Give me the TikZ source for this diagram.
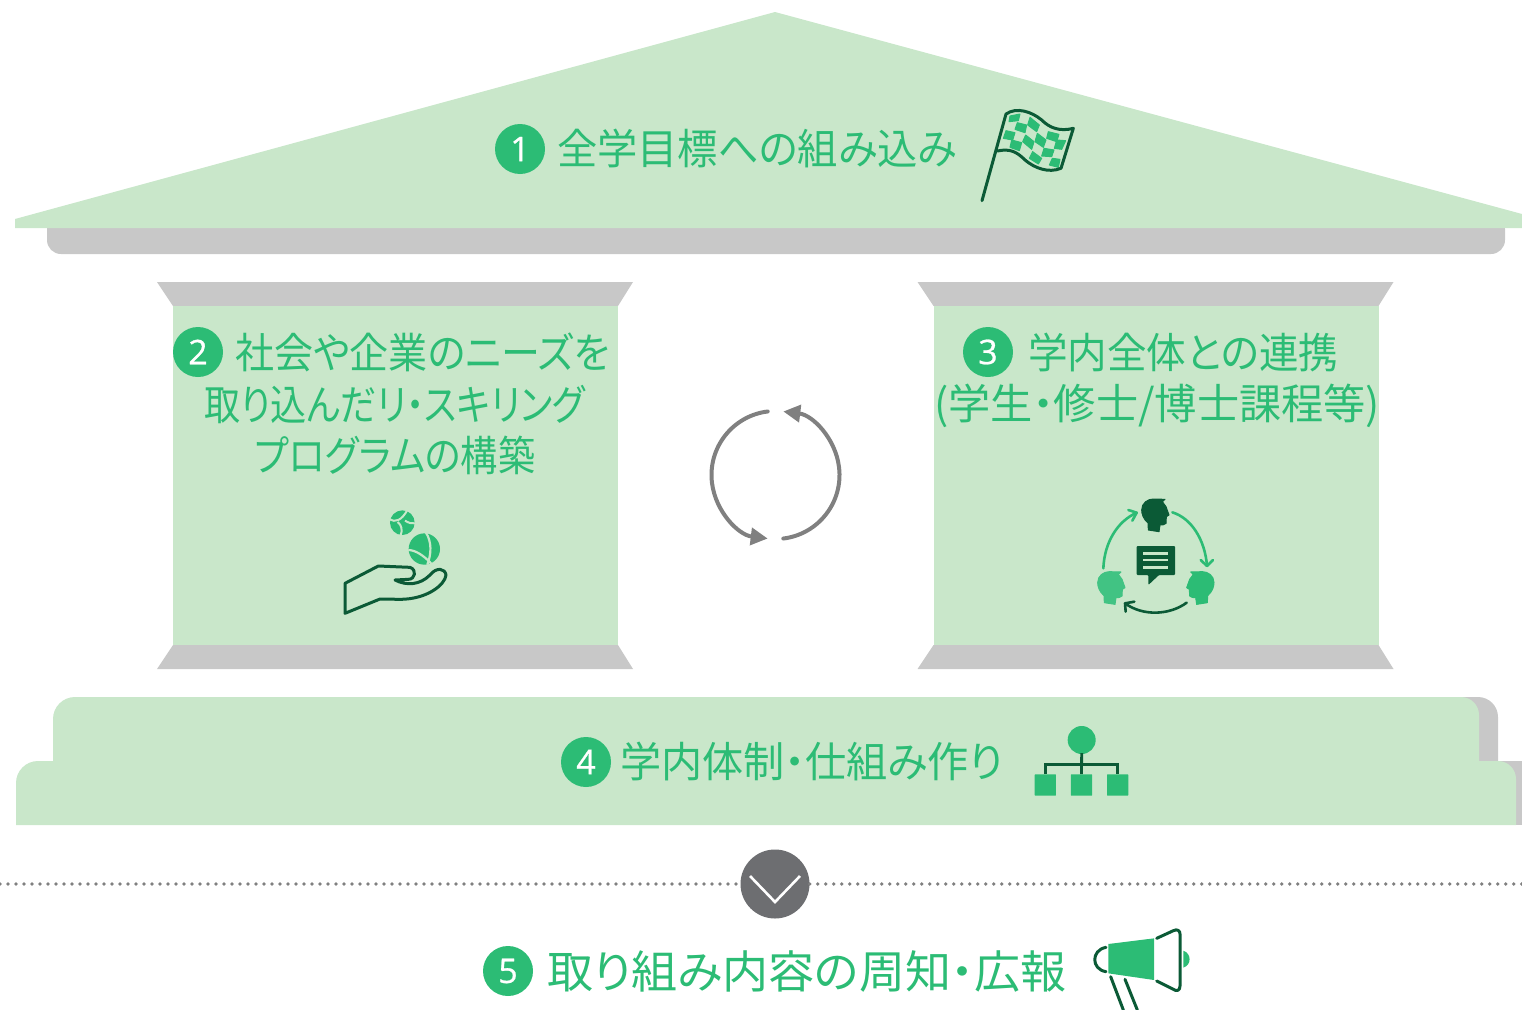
\documentclass[tikz,border=0pt]{standalone}
\usepackage{fontspec}
\usetikzlibrary{arrows.meta}
\newfontfamily\jp[RawFeature=+palt]{Noto Sans CJK JP}
\newfontfamily\numf[FakeBold=0.7]{Open Sans}
\newsavebox\fitbox
\newcommand\fitw[2]{\sbox\fitbox{#2}\resizebox{#1pt}{\ht\fitbox}{\usebox\fitbox}}
\definecolor{tgreen}{HTML}{2CBC75}
\definecolor{lgreen}{HTML}{C9E7CA}
\definecolor{dgreen}{HTML}{0B5A36}
\definecolor{bargray}{HTML}{C8C8C8}
\definecolor{cyc}{HTML}{808080}
\definecolor{disc}{HTML}{6D6E71}
\tikzset{
 jt/.style={font=\jp\fontsize{42}{42}\selectfont,text=tgreen,inner sep=0pt,anchor=west},
 badge/.style={circle,fill=tgreen,minimum size=50pt,inner sep=0pt,text=white,font=\numf\fontsize{34}{34}\selectfont},
 zoomed/.style={xscale=1/3,yscale=1/3},
 outl/.style={draw=dgreen,line width=3pt,line cap=round,line join=round},
 cycarrow/.style={draw=cyc,line width=4pt,line cap=round},
}
\newcommand\headpath{(20,93) -- (19,72) .. controls (5,60) and (0,45) .. (0,33) .. controls (0,12) and (18,0) .. (35,0) -- (70,1) -- (62,8) -- (73,23) -- (82,48) -- (74,53) -- (73,73) .. controls (70,78) and (60,78) .. (55,78) -- (52,98) -- cycle}
\begin{document}
\begin{tikzpicture}[x=1pt,y=-1pt]
\useasboundingbox (0,0) rectangle (1522,1009);
\clip (0,0) rectangle (1522,1009);
% roof
\fill[bargray,rounded corners=14pt] (47,215) -- (47,254) -- (1505,254) -- (1505,215) -- cycle;
\fill[lgreen] (15,228) -- (15,219) -- (775,12) -- (1522,214) -- (1522,228) -- cycle;
% pillars
\foreach \d in {0,760.5}{
 \fill[bargray] (157+\d,282) -- (633+\d,282) -- (618+\d,306) -- (173+\d,306) -- cycle;
 \fill[lgreen] (173+\d,306) rectangle (618+\d,645);
 \fill[bargray] (173+\d,645) -- (618+\d,645) -- (633+\d,669) -- (157+\d,669) -- cycle;
}
% base
\fill[bargray] (1440,697) -- (1478,697) arc[start angle=-90,end angle=0,radius=20] -- (1498,770) -- (1440,770) -- cycle;
\fill[bargray] (1500,761) rectangle (1522,825);
\fill[lgreen] (53,770) -- (53,719) arc[start angle=180,end angle=270,radius=22] -- (1461,697) arc[start angle=-90,end angle=0,radius=18] -- (1479,770) -- cycle;
\fill[lgreen] (16,825) -- (16,783) arc[start angle=180,end angle=270,radius=22] -- (1498,761) arc[start angle=-90,end angle=0,radius=18] -- (1516,825) -- cycle;
% cycle arrows
\draw[cycarrow,-{Triangle[length=17pt,width=17pt]}] ([shift={(775.5,475)}]-97:64) arc[start angle=-97,end angle=-263,radius=64];
\draw[cycarrow,-{Triangle[length=17pt,width=17pt]}] ([shift={(775.5,475)}]83:64) arc[start angle=83,end angle=-83,radius=64];
% separator
\node[circle,fill=disc,minimum size=69pt,inner sep=0pt] (dn) at (775,884) {};
\coordinate (sl) at (0,884);
\coordinate (sr) at (1522,884);
\draw[cyc,line width=3.8pt,line cap=round,dash pattern=on 0pt off 8pt] (sl) -- (dn.west);
\draw[cyc,line width=3.8pt,line cap=round,dash pattern=on 0pt off 8pt] (dn.east) -- (sr);
\coordinate (c1) at (750,876); \coordinate (c2) at (775,902); \coordinate (c3) at (800,876);
\draw[white,line width=2.6pt] (c1) -- (c2) -- (c3);
% texts
\node[badge] (b1) at (520,149) {1};
\node[jt] (t1) at (557,148) {\fitw{400}{全学目標への組み込み}};
\node[badge] (b2) at (198,352) {2};
\node[jt] (t2a) at (235,352) {\fitw{375}{社会や企業のニーズを}};
\node[jt] (t2b) at (204,404) {\fitw{381}{取り込んだリ・スキリング}};
\node[jt] (t2c) at (255,455) {\fitw{280}{プログラムの構築}};
\node[badge] (b3) at (988,352) {3};
\node[jt] (t3a) at (1028,352) {\fitw{310}{学内全体との連携}};
\node[jt] (t3b) at (934,406) {\fitw{446}{(学生・修士/博士課程等)}};
\node[badge] (b4) at (586,762) {4};
\node[jt] (t4) at (620,761) {\fitw{383}{学内体制・仕組み作り}};
\node[badge] (b5) at (508,971) {5};
\node[jt,font=\jp\fontsize{45}{45}\selectfont] (t5) at (547,971) {\fitw{519}{取り組み内容の周知・広報}};
% flag
\begin{scope}[shift={(960,90)},zoomed]
\foreach \q in {
 {(150,78)--(180,72)--(175,92)--(147,95)},
 {(172,98)--(200,105)--(195,128)--(165,118)},
 {(210,82)--(238,105)--(230,125)--(203,105)},
 {(138,122)--(165,128)--(158,150)--(130,145)},
 {(197,135)--(222,155)--(215,178)--(188,155)},
 {(232,130)--(258,150)--(250,172)--(225,155)},
 {(265,125)--(297,133)--(290,155)--(260,145)},
 {(155,150)--(185,158)--(178,182)--(150,172)},
 {(290,150)--(317,152)--(305,178)--(283,175)},
 {(218,185)--(245,205)--(235,222)--(208,205)},
 {(252,175)--(282,180)--(275,200)--(245,198)},
 {(277,205)--(300,208)--(295,232)--(268,225)}}{
 \filldraw[tgreen,line width=1pt,line join=round] \q -- cycle;
}
\draw[outl] (66,332) -- (138,72) .. controls (170,50) and (215,65) .. (245,90) .. controls (270,115) and (300,125) .. (340,115) -- (303,235) .. controls (265,250) and (225,235) .. (195,210) .. controls (170,185) and (150,175) .. (112,183);
\end{scope}
% hand
\begin{scope}[shift={(330,500)},zoomed]
\fill[tgreen] (217,68) circle (37);
\draw[lgreen,line width=2pt] (179,58) .. controls (195,68) and (215,62) .. (232,30);
\draw[lgreen,line width=2pt] (203,66) .. controls (215,75) and (218,90) .. (212,106);
\draw[lgreen,line width=2pt] (225,62) .. controls (235,68) and (245,72) .. (255,70);
\fill[tgreen] (283,147) circle (47);
\draw[lgreen,line width=2.2pt] (235,150) .. controls (255,150) and (280,165) .. (305,192);
\draw[lgreen,line width=2.2pt] (288,98) .. controls (305,125) and (305,160) .. (292,194);
\draw[outl] (45,340) -- (45,250) -- (145,198) -- (240,202) .. controls (262,210) and (255,238) .. (235,238) -- (195,240) .. controls (230,258) and (270,255) .. (300,225) .. controls (320,200) and (345,205) .. (348,225) .. controls (345,255) and (290,298) .. (210,298) -- (150,297) -- cycle;
\end{scope}
% discussion
\begin{scope}[shift={(1085,490)},zoomed]
\begin{scope}[shift={(170,27)}]
\filldraw[dgreen,line width=1pt,line join=round] \headpath;
\end{scope}
\begin{scope}[shift={(38,245)}]
\filldraw[tgreen!90!white,line width=1pt,line join=round] \headpath;
\end{scope}
\begin{scope}[shift={(387,245)},xscale=-1]
\filldraw[tgreen,line width=1pt,line join=round] \headpath;
\end{scope}
\fill[dgreen,rounded corners=1pt] (155,168) -- (270,168) -- (270,255) -- (222,255) -- (190,285) -- (190,255) -- (155,255) -- cycle;
\foreach \yy in {190,210,232}{\draw[lgreen,line width=2.4pt] (175,\yy) -- (250,\yy);}
\draw[tgreen,line width=2.6pt,line cap=round] (55,235) .. controls (58,160) and (95,95) .. (155,68);
\draw[tgreen,line width=2.6pt,line cap=round,line join=round] (130,60) -- (155,68) -- (142,92);
\draw[tgreen,line width=2.6pt,line cap=round] (262,67) .. controls (320,85) and (360,150) .. (366,228);
\draw[tgreen,line width=2.6pt,line cap=round,line join=round] (347,210) -- (366,228) -- (384,210);
\draw[dgreen,line width=2.6pt,line cap=round] (305,338) .. controls (255,375) and (175,380) .. (120,340);
\draw[dgreen,line width=2.6pt,line cap=round,line join=round] (148,335) -- (120,340) -- (122,365);
\end{scope}
% org chart
\begin{scope}[shift={(1020,715)},zoomed]
\node[circle,fill=tgreen,minimum size=28pt,inner sep=0pt] (org) at (185,75) {};
\foreach \n/\x in {oa/76,ob/184.5,oc/293}{
 \node[fill=tgreen,minimum size=21.3pt,inner sep=0pt,rounded corners=0.5pt] (\n) at (\x,210) {};
}
\draw[dgreen,line width=2.8pt] (org.south) ++(0,3pt) -- (ob.north);
\draw[dgreen,line width=2.8pt] (oa.north) -- (oa.north |- 0,148) -- (oc.north |- 0,148) -- (oc.north);
\end{scope}
% megaphone
\begin{scope}[shift={(1080,920)},zoomed]
\fill[tgreen] (85,72) -- (222,55) -- (222,180) -- (85,160) -- cycle;
\draw[outl] (230,55) -- (280,32) .. controls (292,26) and (300,32) .. (300,42) -- (300,198) .. controls (300,212) and (290,215) .. (280,208) -- (230,183);
\draw[outl] (78,82) .. controls (33,90) and (33,148) .. (78,155);
\draw[outl] (92,170) -- (130,270);
\draw[outl] (135,178) -- (172,270);
\fill[tgreen] (310,92) .. controls (335,100) and (335,135) .. (310,143) -- cycle;
\end{scope}
\end{tikzpicture}
\end{document}
